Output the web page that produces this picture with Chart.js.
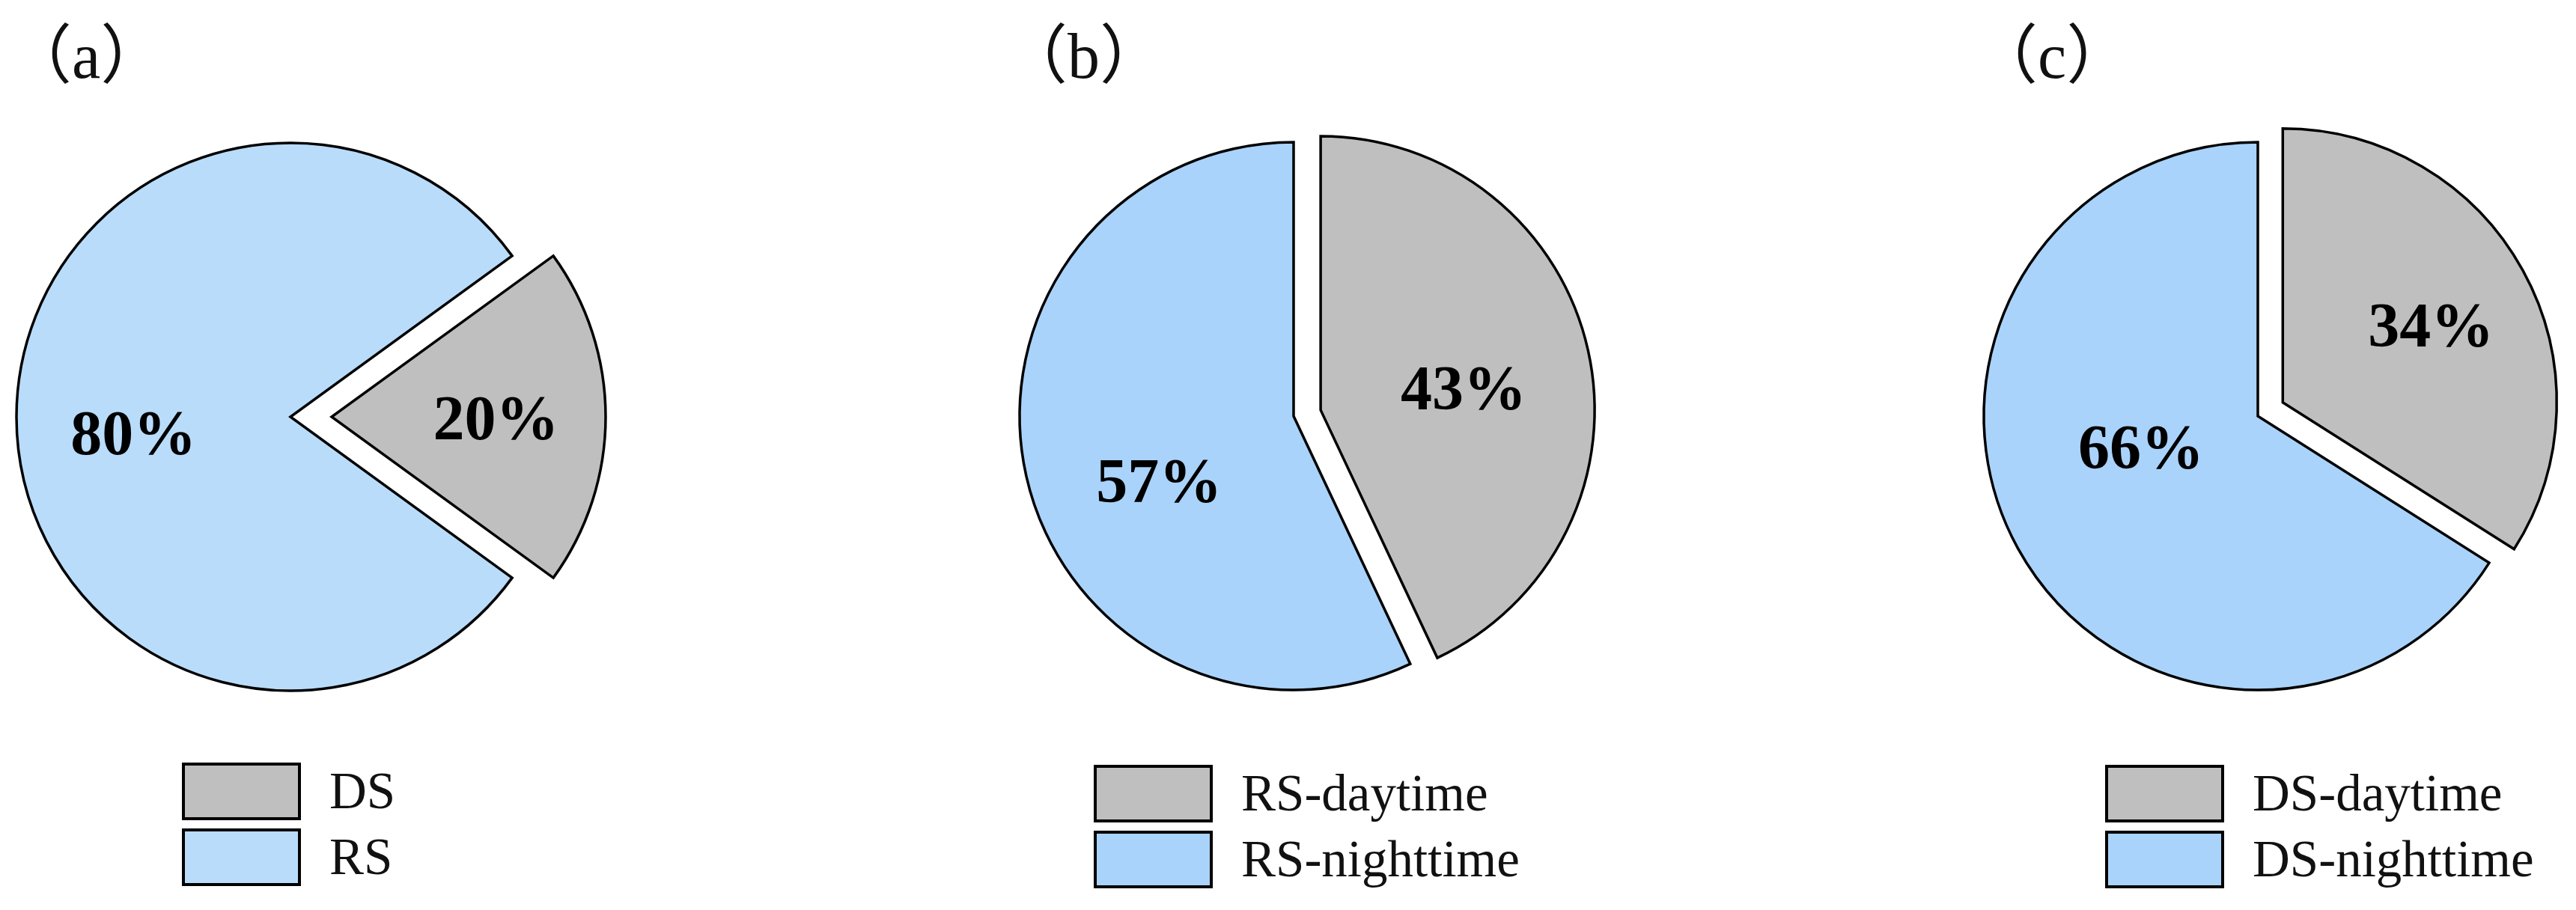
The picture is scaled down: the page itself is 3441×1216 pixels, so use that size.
<!DOCTYPE html>
<html>
<head>
<meta charset="utf-8">
<title>DS / RS shares</title>
<script src="https://cdn.jsdelivr.net/npm/chart.js@4.4.1/dist/chart.umd.min.js"></script>
<style>
    html, body { margin: 0; padding: 0; background: #fff; }
    body { position: relative; width: 3441px; height: 1216px; overflow: hidden;
           font-family: "Liberation Serif", "Noto Sans CJK SC", serif; color: #111; }
    .pie { position: absolute; }
    .panel-tag { position: absolute; font-size: 86px; line-height: 1; white-space: nowrap; }
    .legend { position: absolute; z-index: 2; }
    .legend-item { display: flex; align-items: center; height: 77px; margin-bottom: 11px; }
    .legend-box { width: 159px; height: 77px; box-sizing: border-box; border: 4px solid #000; }
    .legend-text { margin-left: 38px; font-size: 69px; line-height: 77px; }
</style>
</head>
<body>
<canvas id="pieA" class="pie" width="1000" height="1000"></canvas>
<canvas id="pieB" class="pie" width="1000" height="1000"></canvas>
<canvas id="pieC" class="pie" width="1000" height="1000"></canvas>

<script>
// =============================================================================
//  DATA
// =============================================================================

const panelTags = ['（a）', '（b）', '（c）'];

const sourceLabels = ['DS', 'RS'];
const sourceShares = [20, 80];

const rsPeriodLabels = ['RS-daytime', 'RS-nighttime'];
const rsPeriodShares = [43, 57];

const dsPeriodLabels = ['DS-daytime', 'DS-nighttime'];
const dsPeriodShares = [34, 66];

// =============================================================================
//  STYLE / LAYOUT
// =============================================================================

const GREY = '#BFBFBF';
const BLUE_LIGHT = '#B9DCFA';
const BLUE = '#A9D3FA';
const RADIUS = 366;

const panels = [
    { canvas: 'pieA', tag: panelTags[0], labels: sourceLabels, values: sourceShares,
      colors: [GREY, BLUE_LIGHT], cx: 388, cy: 557, rotation: 54, explode: [55, 0],
      labelAt: [[1, 0.6], [173.5, 0.577]], tagPos: [10, 32], legendPos: [243, 1019] },
    { canvas: 'pieB', tag: panelTags[1], labels: rsPeriodLabels, values: rsPeriodShares,
      colors: [GREY, BLUE], cx: 1728, cy: 556, rotation: 0, explode: [37, 0],
      labelAt: [[-8, 0.527], [153.7, 0.548]], tagPos: [1340, 32], legendPos: [1461, 1022] },
    { canvas: 'pieC', tag: panelTags[2], labels: dsPeriodLabels, values: dsPeriodShares,
      colors: [GREY, BLUE], cx: 3016, cy: 556, rotation: 0, explode: [38, 0],
      labelAt: [[-27, 0.607], [164.2, 0.443]], tagPos: [2636, 32], legendPos: [2812, 1022] }
];

// pulls a slice away from the centre along its mid angle
const explodePlugin = {
    id: 'explode',
    afterDatasetUpdate(chart, args, opts) {
        const meta = chart.getDatasetMeta(args.index);
        meta.data.forEach((arc, i) => {
            const d = (opts.distances || [])[i] || 0;
            if (!d) return;
            const mid = (arc.startAngle + arc.endAngle) / 2;
            arc.x += Math.cos(mid) * d;
            arc.y += Math.sin(mid) * d;
        });
    }
};

// bold percentage inside each slice
const percentLabels = {
    id: 'percentLabels',
    afterDatasetsDraw(chart, args, opts) {
        const ctx = chart.ctx;
        const values = chart.data.datasets[0].data;
        ctx.save();
        ctx.font = 'bold 84px "Liberation Serif", serif';
        ctx.fillStyle = '#000';
        ctx.textAlign = 'center';
        ctx.textBaseline = 'middle';
        chart.getDatasetMeta(0).data.forEach((arc, i) => {
            const [deg, frac] = opts.place[i];
            const a = deg * Math.PI / 180;
            const r = arc.outerRadius * frac;
            ctx.fillText(`${values[i]}%`, arc.x + Math.cos(a) * r, arc.y + Math.sin(a) * r + 4);
        });
        ctx.restore();
    }
};

document.addEventListener('DOMContentLoaded', () => {
    panels.forEach(drawPanel);
});

function drawPanel(p) {
    const canvas = document.getElementById(p.canvas);
    canvas.style.left = `${p.cx - canvas.width / 2}px`;
    canvas.style.top = `${p.cy - canvas.height / 2}px`;

    new Chart(canvas.getContext('2d'), {
        type: 'pie',
        data: {
            labels: p.labels,
            datasets: [{
                data: p.values,
                backgroundColor: p.colors,
                borderColor: '#000',
                borderWidth: 3.5,
                borderJoinStyle: 'miter'
            }]
        },
        options: {
            responsive: false,
            animation: false,
            events: [],
            rotation: p.rotation,
            radius: RADIUS,
            layout: { padding: 0 },
            plugins: {
                legend: { display: false },
                tooltip: { enabled: false },
                explode: { distances: p.explode },
                percentLabels: { place: p.labelAt }
            }
        },
        plugins: [explodePlugin, percentLabels]
    });

    // panel letter
    const tag = document.createElement('div');
    tag.className = 'panel-tag';
    tag.textContent = p.tag;
    tag.style.left = `${p.tagPos[0]}px`;
    tag.style.top = `${p.tagPos[1]}px`;
    document.body.appendChild(tag);

    // legend below the pie
    const legend = document.createElement('div');
    legend.className = 'legend';
    legend.style.left = `${p.legendPos[0]}px`;
    legend.style.top = `${p.legendPos[1]}px`;
    p.labels.forEach((label, i) => {
        legend.innerHTML += `
            <div class="legend-item">
                <span class="legend-box" style="background:${p.colors[i]}"></span>
                <span class="legend-text">${label}</span>
            </div>`;
    });
    document.body.appendChild(legend);
}
</script>
</body>
</html>
